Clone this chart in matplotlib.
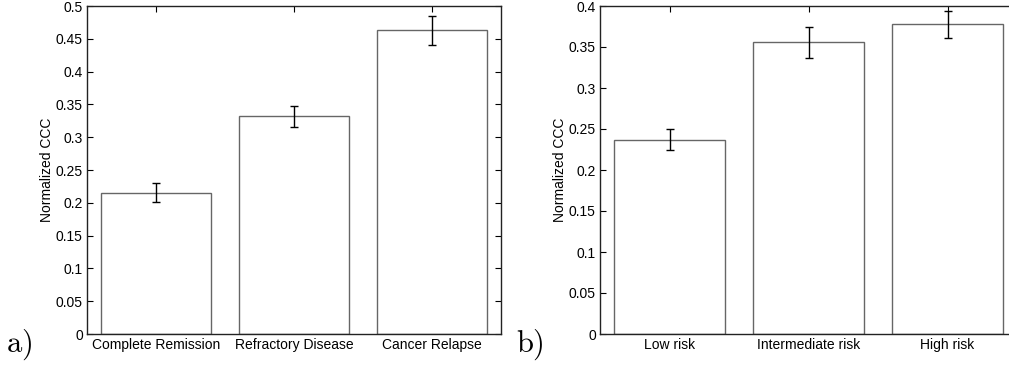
import matplotlib
matplotlib.use("Agg")
import matplotlib.pyplot as plt
import numpy as np

plt.rcParams['font.family'] = ['Liberation Sans', 'DejaVu Sans']
plt.rcParams['mathtext.fontset'] = 'cm'

cats_a = ["Complete Remission", "Refractory Disease", "Cancer Relapse"]
vals_a = [0.215, 0.332, 0.463]
errs_a = [0.0145, 0.016, 0.022]
yticks_a = [0, 0.05, 0.1, 0.15, 0.2, 0.25, 0.3, 0.35, 0.4, 0.45, 0.5]

cats_b = ["Low risk", "Intermediate risk", "High risk"]
vals_b = [0.237, 0.356, 0.378]
errs_b = [0.013, 0.019, 0.0165]
yticks_b = [0, 0.05, 0.1, 0.15, 0.2, 0.25, 0.3, 0.35, 0.4]

W, H = 1009, 366
fig = plt.figure(figsize=(W / 100, H / 100), dpi=100)

def fmt(v):
    return '%g' % v

def panel(rect, cats, vals, errs, yticks, letter, letter_x):
    ax = fig.add_axes(rect)
    x = np.arange(1, len(cats) + 1)
    ax.bar(x, vals, width=0.8, color='white', edgecolor='#666666', linewidth=1.0, zorder=2)
    ax.errorbar(x, vals, yerr=errs, fmt='none', ecolor='black', elinewidth=1.0,
                capsize=3, capthick=1.0, zorder=3)
    ax.set_xlim(0.5, len(cats) + 0.5)
    ax.set_ylim(yticks[0], yticks[-1])
    ax.set_xticks(x)
    ax.set_xticklabels(cats, fontsize=10)
    ax.set_yticks(yticks)
    ax.set_yticklabels([fmt(v) for v in yticks], fontsize=10)
    ax.tick_params(direction='in', length=4, width=0.8, top=True, right=True, pad=3)
    ax.set_ylabel("Normalized CCC", fontsize=10, labelpad=1)
    for s in ax.spines.values():
        s.set_linewidth(1.0)
        s.set_color('#222222')
    fig.text(letter_x, 0.012, r'$\mathrm{%s)}$' % letter, fontsize=22, ha='left', va='bottom')
    return ax

# axes a: x 87..501, y 6..334
panel([87 / W, 1 - 334 / H, 414 / W, 328 / H], cats_a, vals_a, errs_a, yticks_a, 'a', 6 / W)
# axes b: x 600..1017 (cropped)
panel([600 / W, 1 - 334 / H, 417 / W, 328 / H], cats_b, vals_b, errs_b, yticks_b, 'b', 516 / W)

fig.savefig("out.png", dpi=100)
